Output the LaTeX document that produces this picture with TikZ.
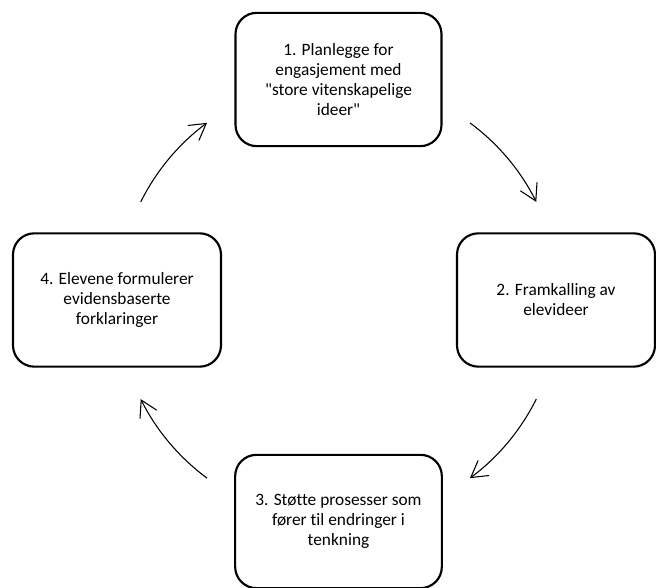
\documentclass[tikz,border=0pt]{standalone}
\usepackage{fontspec}
\setmainfont{Carlito}[Ligatures={TeXOff,NoCommon}]
\usepackage{tikz}
\usetikzlibrary{arrows.meta,calc}

\begin{document}
\begin{tikzpicture}[x=0.75pt, y=0.75pt,
  stage/.style={draw, line width=1.6pt, rounded corners=16pt, align=center,
    font=\fontsize{13pt}{15pt}\selectfont, minimum height=100pt},
  cyc/.style={line width=0.8pt, -{Straight Barb[length=12pt, width=14pt]}}]
\useasboundingbox (0,0) rectangle (656,588);
\node[stage, minimum width=154.5pt] (plan) at (338.5,508.5)
  {1. Planlegge for\\engasjement med\\"store vitenskapelige\\ideer"};
\node[stage, minimum width=148.5pt] (elicit) at (556,288)
  {2. Framkalling av\\elevideer};
\node[stage, minimum width=155pt] (support) at (338.5,66.5)
  {3. Støtte prosesser som\\fører til endringer i\\tenkning};
\node[stage, minimum width=156pt] (explain) at (117,288)
  {4. Elevene formulerer\\evidensbaserte\\forklaringer};
% arrows on a circle round the middle
\coordinate (hub) at (338.5,287.5);
\foreach \a/\b in {53.5/26.5, -26.5/-53.5, -126.5/-153.5, 153.5/126.5}
  \draw[cyc] ($(hub)+(\a:165.75pt)$) arc[start angle=\a, end angle=\b, radius=165.75pt];
\end{tikzpicture}
\end{document}
